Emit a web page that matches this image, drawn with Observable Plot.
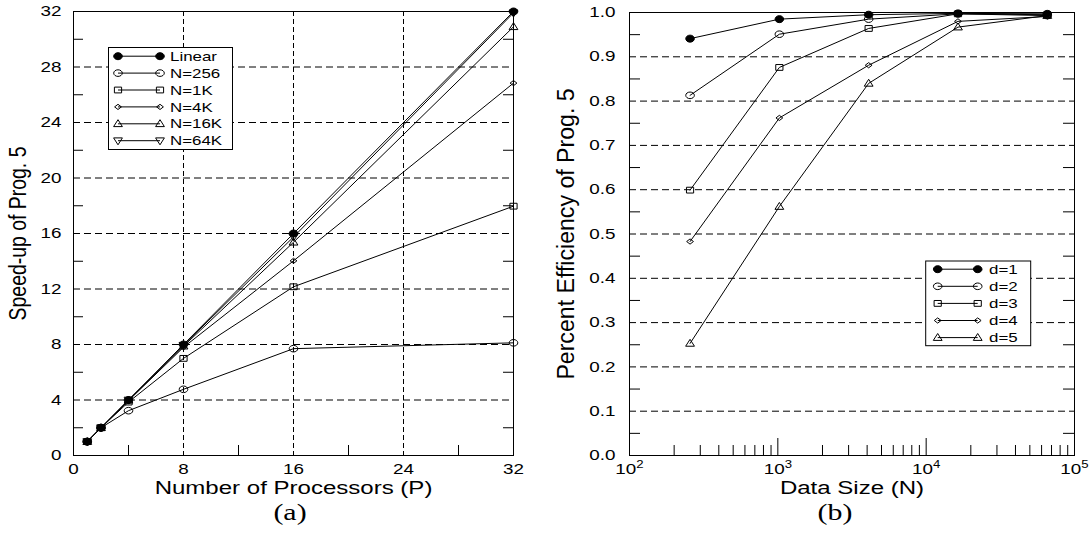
<!DOCTYPE html>
<html>
<head>
<meta charset="utf-8">
<script src="https://cdn.jsdelivr.net/npm/d3@7"></script>
<script src="https://cdn.jsdelivr.net/npm/@observablehq/plot@0.6"></script>
<style>
  body { margin: 0; background: white; }
  #wrap { position: relative; width: 1090px; height: 540px; background: white; overflow: hidden; }
  .panel { position: absolute; top: 0; }
  .cap { position: absolute; top: 499px; width: 100px; height: 28px; line-height: 28px; text-align: center;
         font-family: "Liberation Serif", "Times New Roman", serif; font-size: 23px; color: #000; transform: scaleX(1.3); }
</style>
</head>
<body>
<div id="wrap">
  <div id="pa" class="panel" style="left:0px"></div>
  <div id="pb" class="panel" style="left:545px"></div>
  <div class="cap" style="left:240px">(a)</div>
  <div class="cap" style="left:785px">(b)</div>
</div>
<script>
// ---------- Panel (a): speed-up ----------
const procTicks = [0, 8, 16, 24, 32];
const speedTicks = [0, 4, 8, 12, 16, 20, 24, 28, 32];
const speedGrid = [4, 8, 12, 16, 20, 24, 28];
const procGrid = [8, 16, 24];
const speedMinor = [2, 6, 10, 14, 18, 22, 26, 30];
const procMinor = [4, 12, 20, 28];

const procs = [1, 2, 4, 8, 16, 32];
const speedLinear = [1, 2, 4, 8, 16, 32];
const speedN256 = [1, 2, 3.23, 4.77, 7.7, 8.12];
const speedN1K = [1, 2, 3.85, 7.0, 12.16, 17.97];
const speedN4K = [1, 2, 3.95, 7.8, 14.03, 26.84];
const speedN16K = [1, 2, 3.98, 7.88, 15.37, 30.9];
const speedN64K = [1, 2, 4.0, 7.95, 15.75, 31.9];
const speedNames = ["Linear", "N=256", "N=1K", "N=4K", "N=16K", "N=64K"];

// ---------- Panel (b): efficiency ----------
const sizes = [256, 1024, 4096, 16384, 65536];
const effD1 = [0.941, 0.985, 0.995, 0.998, 0.997];
const effD2 = [0.813, 0.951, 0.985, 0.997, 0.993];
const effD3 = [0.599, 0.876, 0.964, 0.997, 0.995];
const effD4 = [0.483, 0.762, 0.881, 0.980, 0.991];
const effD5 = [0.253, 0.562, 0.840, 0.967, 0.993];
const effNames = ["d=1", "d=2", "d=3", "d=4", "d=5"];
const sizeTicks = [100, 1000, 10000, 100000];
const sizeMajorInner = [1000, 10000];
const sizeMinor = [200, 300, 400, 500, 600, 700, 800, 900,
                   2000, 3000, 4000, 5000, 6000, 7000, 8000, 9000,
                   20000, 30000, 40000, 50000, 60000, 70000, 80000, 90000];
const effTicks = [0, 0.1, 0.2, 0.3, 0.4, 0.5, 0.6, 0.7, 0.8, 0.9, 1.0];
const effGrid = [0.1, 0.2, 0.3, 0.4, 0.5, 0.6, 0.7, 0.8, 0.9];
const effMinor = [0.05, 0.15, 0.25, 0.35, 0.45, 0.55, 0.65, 0.75, 0.85, 0.95];

const K = 1.3; // horizontal stretch of the glyphs in the source picture
const FONT = '"Liberation Sans", Arial, Helvetica, sans-serif';

// custom, horizontally stretched marker shapes
function ell(rx, ry) {
  const c = 0.5523;
  return {draw(ctx) {
    ctx.moveTo(rx, 0);
    ctx.bezierCurveTo(rx, ry * c, rx * c, ry, 0, ry);
    ctx.bezierCurveTo(-rx * c, ry, -rx, ry * c, -rx, 0);
    ctx.bezierCurveTo(-rx, -ry * c, -rx * c, -ry, 0, -ry);
    ctx.bezierCurveTo(rx * c, -ry, rx, -ry * c, rx, 0);
    ctx.closePath();
  }};
}
function poly(pts) {
  return {draw(ctx) {
    ctx.moveTo(pts[0][0], pts[0][1]);
    for (let i = 1; i < pts.length; i++) ctx.lineTo(pts[i][0], pts[i][1]);
    ctx.closePath();
  }};
}
const SYM = {
  filled: ell(4.3, 3.5),
  circle: ell(4.3, 3.3),
  square: poly([[-3.6, -2.9], [3.6, -2.9], [3.6, 2.9], [-3.6, 2.9]]),
  diamond: poly([[0, -2.6], [3.4, 0], [0, 2.6], [-3.4, 0]]),
  tri: poly([[0, -4.1], [4.4, 2.8], [-4.4, 2.8]]),
  triDown: poly([[0, 4.1], [4.4, -2.8], [-4.4, -2.8]])
};

const speedSeries = [
  {name: speedNames[0], values: speedLinear, sym: SYM.filled, filled: true},
  {name: speedNames[1], values: speedN256, sym: SYM.circle},
  {name: speedNames[2], values: speedN1K, sym: SYM.square},
  {name: speedNames[3], values: speedN4K, sym: SYM.diamond},
  {name: speedNames[4], values: speedN16K, sym: SYM.tri},
  {name: speedNames[5], values: speedN64K, sym: SYM.triDown}
];
const effSeries = [
  {name: effNames[0], values: effD1, sym: SYM.filled, filled: true},
  {name: effNames[1], values: effD2, sym: SYM.circle},
  {name: effNames[2], values: effD3, sym: SYM.square},
  {name: effNames[3], values: effD4, sym: SYM.diamond},
  {name: effNames[4], values: effD5, sym: SYM.tri}
];

function seriesMarks(series, xs) {
  const marks = [];
  for (const s of series) {
    const rows = xs.map((x, i) => ({x, y: s.values[i]}));
    marks.push(Plot.line(rows, {x: "x", y: "y", stroke: "#000", strokeWidth: 1}));
  }
  for (const s of series) {
    const rows = xs.map((x, i) => ({x, y: s.values[i]}));
    marks.push(Plot.dot(rows, {x: "x", y: "y", symbol: s.sym, r: 4, fill: s.filled ? "#000" : "none", stroke: "#000", strokeWidth: 1}));
  }
  return marks;
}

// stretch glyphs horizontally on the page (for rotated text: across the reading direction)
function stretchText(svg, along) {
  svg.querySelectorAll("text").forEach(t => {
    const tr = t.getAttribute("transform");
    if (tr) {
      t.setAttribute("transform", tr + (tr.includes("rotate") ? ` scale(${along},${K})` : ` scale(${K},1)`));
    } else {
      const x = parseFloat(t.getAttribute("x")) || 0;
      t.removeAttribute("x");
      t.setAttribute("transform", `translate(${x},0) scale(${K},1)`);
    }
  });
}

function superscripts(svg) {
  svg.querySelectorAll("text").forEach(t => {
    const s = t.textContent;
    if (s.includes("^")) {
      const [b, e] = s.split("^");
      t.textContent = b;
      const ts = document.createElementNS("http://www.w3.org/2000/svg", "tspan");
      ts.setAttribute("dy", "-0.6em");
      ts.setAttribute("font-size", "0.7em");
      ts.textContent = e;
      t.appendChild(ts);
    }
  });
}

function drawLegend(svg, series, o) {
  const g = d3.select(svg).append("g").attr("font-family", FONT).attr("font-size", 13).attr("text-anchor", "start");
  g.append("rect").attr("x", o.bx).attr("y", o.by).attr("width", o.bw).attr("height", o.bh)
    .attr("fill", "white").attr("stroke", "#000").attr("stroke-width", 1);
  series.forEach((s, i) => {
    const y = o.y0 + i * o.dy;
    g.append("line").attr("x1", o.x1).attr("x2", o.x2).attr("y1", y).attr("y2", y)
      .attr("stroke", "#000").attr("stroke-width", 1);
    for (const x of [o.x1, o.x2]) {
      g.append("path").attr("d", d3.symbol(s.sym)()).attr("transform", `translate(${x},${y})`)
        .attr("fill", s.filled ? "#000" : "none").attr("stroke", "#000").attr("stroke-width", 1);
    }
    g.append("text").attr("transform", `translate(${o.tx},${y}) scale(${K},1)`).attr("dy", "0.36em")
      .attr("text-anchor", "start").attr("fill", "#000").text(s.name);
  });
}

// ---------- build panel (a) ----------
const W = 545, H = 500;
const aML = 73, aMR = 32, aMT = 11, aMB = 45;
const aFW = W - aML - aMR, aFH = H - aMT - aMB;

const plotA = Plot.plot({
  width: W, height: H,
  marginLeft: aML, marginRight: aMR, marginTop: aMT, marginBottom: aMB,
  style: {fontFamily: FONT, fontSize: "14.5px", background: "white", color: "#000", overflow: "visible"},
  x: {domain: [0, 32]},
  y: {domain: [0, 32]},
  marks: [
    Plot.ruleY(speedGrid, {y: d => d, stroke: "#000", strokeWidth: 1, strokeDasharray: "7,4"}),
    Plot.ruleX(procGrid, {x: d => d, stroke: "#000", strokeWidth: 1, strokeDasharray: "5,3"}),
    Plot.tickY(speedMinor, {y: d => d, insetRight: aFW - 10, stroke: "#000"}),
    Plot.tickY(speedMinor, {y: d => d, insetLeft: aFW - 10, stroke: "#000"}),
    Plot.tickX(procMinor, {x: d => d, insetTop: aFH - 10, stroke: "#000"}),
    Plot.frame({stroke: "#000", strokeWidth: 1}),
    Plot.axisX(procTicks, {tickSize: 0, tickPadding: 8, label: null, fontSize: 14.5, fill: "#000"}),
    Plot.axisY(speedTicks, {tickSize: 0, tickPadding: 12, label: null, fontSize: 14.5, fill: "#000"}),
    Plot.text(["Number of Processors (P)"], {text: d => d, frameAnchor: "bottom", dy: 33, lineAnchor: "middle", textAnchor: "middle", fontSize: 18.5, fill: "#000"}),
    Plot.text(["Speed-up of Prog. 5"], {text: d => d, frameAnchor: "left", dx: -55, rotate: -90, lineAnchor: "middle", textAnchor: "middle", fontSize: 18.5, fill: "#000"}),
    ...seriesMarks(speedSeries, procs)
  ]
});
document.getElementById("pa").appendChild(plotA);
stretchText(plotA, 1.05);
drawLegend(plotA, speedSeries, {bx: 108.5, by: 47.5, bw: 124, bh: 102, y0: 56.2, dy: 16.9, x1: 118, x2: 160, tx: 170});

// ---------- build panel (b) ----------
const bML = 84, bMR = 16, bMT = 12, bMB = 45;
const bFW = W - bML - bMR, bFH = H - bMT - bMB;

const plotB = Plot.plot({
  width: W, height: H,
  marginLeft: bML, marginRight: bMR, marginTop: bMT, marginBottom: bMB,
  style: {fontFamily: FONT, fontSize: "14.5px", background: "white", color: "#000", overflow: "visible"},
  x: {type: "log", domain: [100, 100000]},
  y: {domain: [0, 1]},
  marks: [
    Plot.ruleY(effGrid, {y: d => d, stroke: "#000", strokeWidth: 1, strokeDasharray: "7,4"}),
    Plot.tickY(effMinor, {y: d => d, insetRight: bFW - 11, stroke: "#000"}),
    Plot.tickY(effMinor, {y: d => d, insetLeft: bFW - 11, stroke: "#000"}),
    Plot.tickX(sizeMinor, {x: d => d, insetTop: bFH - 10, stroke: "#000"}),
    Plot.tickX(sizeMajorInner, {x: d => d, insetTop: bFH - 17, stroke: "#000"}),
    Plot.frame({stroke: "#000", strokeWidth: 1}),
    Plot.axisX(sizeTicks, {tickSize: 0, tickPadding: 8, label: null, fontSize: 14.5, fill: "#000",
      tickFormat: d => "10^" + Math.round(Math.log10(d))}),
    Plot.axisY(effTicks, {tickSize: 0, tickPadding: 14, label: null, fontSize: 14.5, fill: "#000",
      tickFormat: d3.format(".1f")}),
    Plot.text(["Data Size (N)"], {text: d => d, frameAnchor: "bottom", dy: 33, lineAnchor: "middle", textAnchor: "middle", fontSize: 18.5, fill: "#000"}),
    Plot.text(["Percent Efficiency of Prog. 5"], {text: d => d, frameAnchor: "left", dx: -63, rotate: -90, lineAnchor: "middle", textAnchor: "middle", fontSize: 18.5, fill: "#000"}),
    ...seriesMarks(effSeries, sizes)
  ]
});
document.getElementById("pb").appendChild(plotB);
superscripts(plotB);
stretchText(plotB, 1.25);
drawLegend(plotB, effSeries, {bx: 380.7, by: 261, bw: 105, bh: 84.7, y0: 269.2, dy: 17.1, x1: 392.7, x2: 432.7, tx: 444});
</script>
</body>
</html>
